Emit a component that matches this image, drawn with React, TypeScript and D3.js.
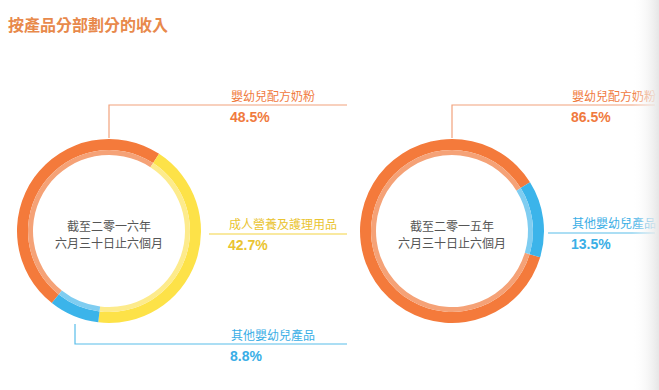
import * as d3 from 'd3'
import React from 'react'

const title = '按產品分部劃分的收入'

// 2016 donut
const categories2016 = ['嬰幼兒配方奶粉', '成人營養及護理用品', '其他嬰幼兒產品']
const values2016 = [48.5, 42.7, 8.8]
const center2016 = ['截至二零一六年', '六月三十日止六個月']

// 2015 donut
const categories2015 = ['嬰幼兒配方奶粉', '其他嬰幼兒產品']
const values2015 = [86.5, 13.5]
const center2015 = ['截至二零一五年', '六月三十日止六個月']

const palette = {
    嬰幼兒配方奶粉: { dark: '#f47a3b', light: '#f5a277', text: '#f07a3e', line: '#f2a27c' },
    成人營養及護理用品: { dark: '#fde248', light: '#fdeb8c', text: '#eac431', line: '#f3d443' },
    其他嬰幼兒產品: { dark: '#3bb4ea', light: '#7fcdf1', text: '#3aaee6', line: '#58bde9' },
}

const CJK = '"Noto Sans CJK TC", "Noto Sans CJK SC", sans-serif'
const NUM = '"Liberation Sans", Arial, sans-serif'
const deg = Math.PI / 180

type Callout = {
    // polyline points of the leader line, plus label anchor
    points: [number, number][]
    lx: number
    ly: number
}

const Donut = (props: {
    cx: number
    cy: number
    categories: string[]
    values: number[]
    start: number
    centerText: string[]
    callouts: Callout[]
}): JSX.Element => {
    const { cx, cy, categories, values, start, centerText, callouts } = props
    const pie = d3
        .pie<number>()
        .sort(null)
        .value((d) => d)
        .startAngle(start)
        .endAngle(start + 2 * Math.PI)
    const arcs = pie(values)
    const outer = d3.arc<d3.PieArcDatum<number>>().innerRadius(81).outerRadius(92)
    const inner = d3.arc<d3.PieArcDatum<number>>().innerRadius(76).outerRadius(81)
    const line = d3.line()

    return (
        <g>
            <g transform={`translate(${cx},${cy})`}>
                {arcs.map((a, i) => (
                    <g key={i}>
                        <path d={outer(a) || ''} fill={palette[categories[i]].dark} />
                        <path d={inner(a) || ''} fill={palette[categories[i]].light} />
                    </g>
                ))}
                {centerText.map((t, i) => (
                    <text
                        key={i}
                        x={0}
                        y={i === 0 ? 0 : 17}
                        textAnchor="middle"
                        fontFamily={CJK}
                        fontSize={12}
                        fill="#555"
                    >
                        {t}
                    </text>
                ))}
            </g>
            {callouts.map((c, i) => {
                const col = palette[categories[i]]
                return (
                    <g key={i}>
                        <path d={line(c.points) || ''} fill="none" stroke={col.line} strokeWidth={1.2} />
                        <text x={c.lx} y={c.ly} fontFamily={CJK} fontSize={12} fill={col.text}>
                            {categories[i]}
                        </text>
                        <text
                            x={c.lx - 1}
                            y={c.ly + 21}
                            fontFamily={NUM}
                            fontWeight="bold"
                            fontSize={14}
                            fill={col.text}
                        >
                            {`${values[i]}%`}
                        </text>
                    </g>
                )
            })}
        </g>
    )
}

const App = (): JSX.Element => {
    const width = 659
    const height = 390
    return (
        <svg
            width={width}
            height={height}
            style={{ position: 'absolute', left: 0, top: 0, background: '#fff' }}
        >
            <defs>
                <linearGradient id="edge" x1="0" x2="1" y1="0" y2="0">
                    <stop offset="0" stopColor="#fff" stopOpacity={0} />
                    <stop offset="1" stopColor="#e6e6e6" />
                </linearGradient>
            </defs>
            <text x={8} y={31} fontFamily={CJK} fontWeight="bold" fontSize={16} fill="#e8894b">
                {title}
            </text>
            <Donut
                cx={109}
                cy={231}
                categories={categories2016}
                values={values2016}
                start={(33 - 3.6 * values2016[0]) * deg}
                centerText={center2016}
                callouts={[
                    { points: [[109, 138], [109, 105], [347, 105]], lx: 231, ly: 101 },
                    { points: [[209, 234], [347, 234]], lx: 229, ly: 229 },
                    { points: [[75, 324], [75, 344], [347, 344]], lx: 231, ly: 340 },
                ]}
            />
            <Donut
                cx={452}
                cy={231}
                categories={categories2015}
                values={values2015}
                start={(58 - 3.6 * values2015[0]) * deg}
                centerText={center2015}
                callouts={[
                    { points: [[452, 138], [452, 105], [655, 105]], lx: 572, ly: 101 },
                    { points: [[548, 233], [655, 233]], lx: 572, ly: 228 },
                ]}
            />
            <rect x={632} y={0} width={27} height={height} fill="url(#edge)" />
        </svg>
    )
}

export default App
